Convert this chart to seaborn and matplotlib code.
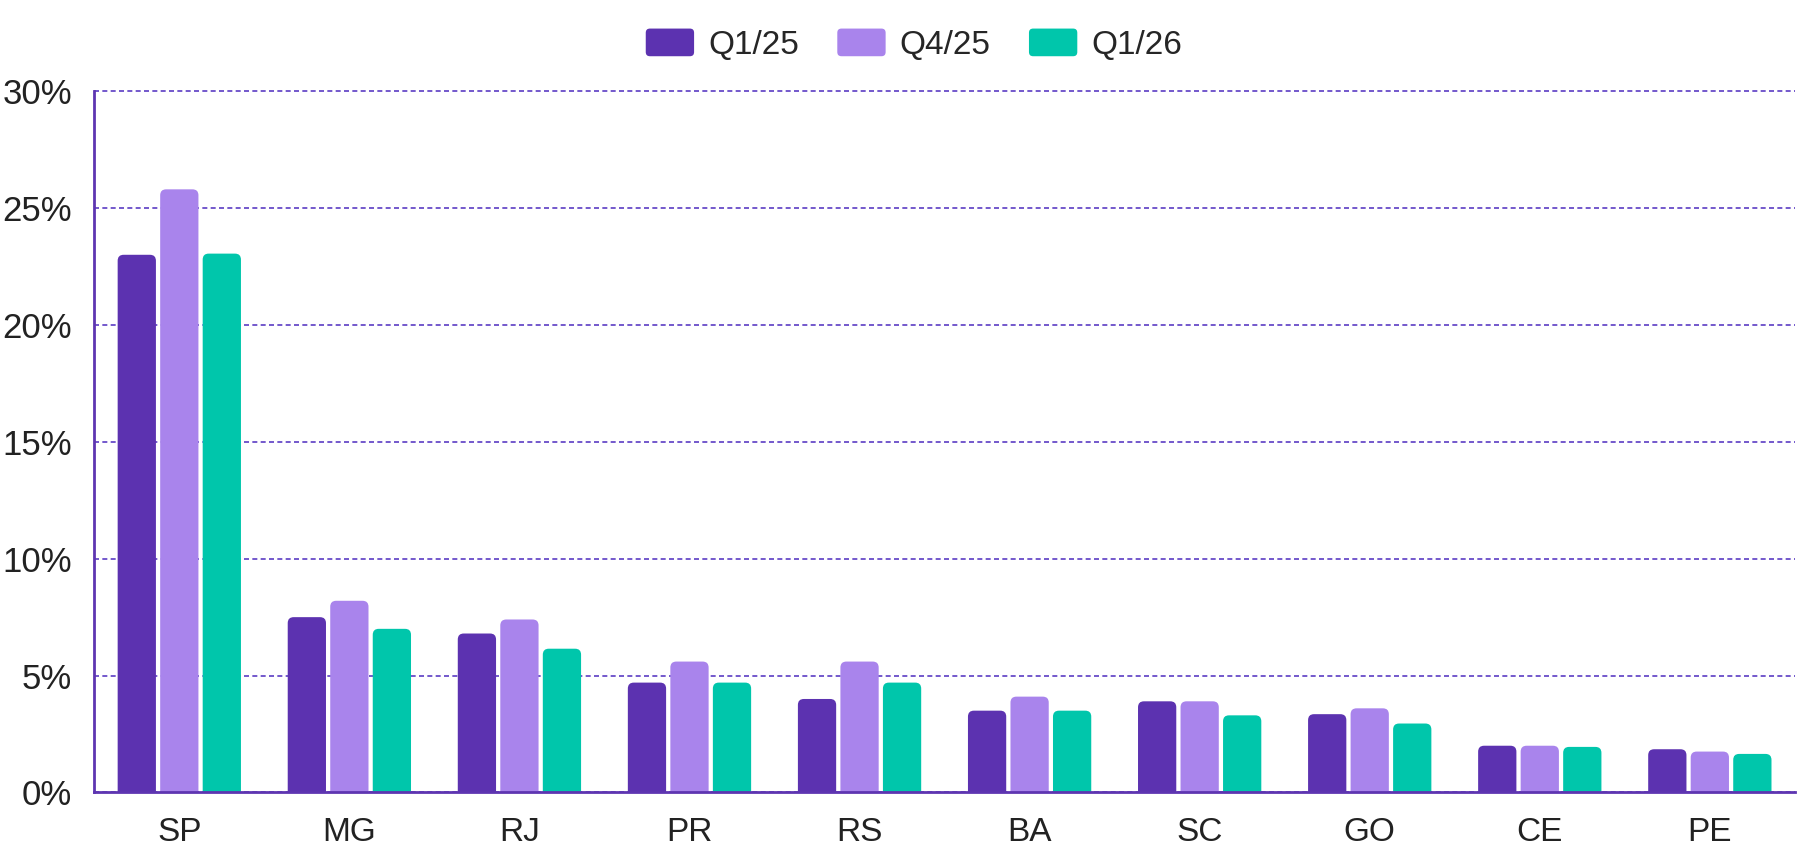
import matplotlib
matplotlib.use("Agg")
import matplotlib.pyplot as plt
import matplotlib.patches as mpatches
from matplotlib.patches import FancyBboxPatch
from matplotlib.legend_handler import HandlerPatch
import seaborn as sns
import pandas as pd

states = ["SP", "MG", "RJ", "PR", "RS", "BA", "SC", "GO", "CE", "PE"]
quarters = ["Q1/25", "Q4/25", "Q1/26"]
q1_25 = [23.0, 7.5, 6.8, 4.7, 4.0, 3.5, 3.9, 3.35, 2.0, 1.85]
q4_25 = [25.8, 8.2, 7.4, 5.6, 5.6, 4.1, 3.9, 3.6, 2.0, 1.75]
q1_26 = [23.05, 7.0, 6.15, 4.7, 4.7, 3.5, 3.3, 2.95, 1.95, 1.65]
colors = ["#5C32B0", "#A984EC", "#00C6AB"]
yticks = [0, 5, 10, 15, 20, 25, 30]

df = pd.DataFrame({
    "state": states * 3,
    "quarter": [q for q in quarters for _ in states],
    "share": q1_25 + q4_25 + q1_26,
})


class RoundedHandle(HandlerPatch):
    # legend swatch with rounded corners
    def create_artists(self, legend, orig_handle, xdescent, ydescent,
                       width, height, fontsize, trans):
        p = FancyBboxPatch(
            (-xdescent, -ydescent), width, height,
            boxstyle="round,pad=0,rounding_size=3",
            facecolor=orig_handle.get_facecolor(), edgecolor="none",
            transform=trans,
        )
        return [p]


sns.set_style("white")
plt.rcParams["font.family"] = ["Liberation Sans", "DejaVu Sans"]

purple = "#5E35B1"
fig = plt.figure(figsize=(18.13, 8.68), dpi=100)
ax = fig.add_axes([0.052, 0.087, 0.938, 0.808])

sns.barplot(
    data=df, x="state", y="share", hue="quarter",
    palette=colors, width=0.75, gap=0.1, saturation=1,
    ax=ax, zorder=3,
)

ax.set_ylim(0, 30)
ax.set_xlim(-0.5, 9.5)

# swap bars for ones with rounded top corners
p0 = ax.transData.transform((0, 0))
p1 = ax.transData.transform((1, 1))
aspect = (p1[0] - p0[0]) / (p1[1] - p0[1])
r = 0.035
for bar in list(ax.patches):
    x, y = bar.get_x(), bar.get_y()
    w, h = bar.get_width(), bar.get_height()
    if w <= 0 or h <= 0:
        continue
    pad = r * aspect
    rb = FancyBboxPatch(
        (x, y - pad), w, h + pad,
        boxstyle=f"round,pad=0,rounding_size={r}",
        mutation_aspect=aspect,
        facecolor=bar.get_facecolor(), edgecolor="none", zorder=3,
    )
    ax.add_patch(rb)
    bar.set_visible(False)

ax.set_yticks(yticks)
ax.set_yticklabels([f"{t}%" for t in yticks])
ax.set_xlabel("")
ax.set_ylabel("")

ax.grid(axis="y", color="#5B3CC4", linestyle=(0, (3, 2)), linewidth=1.2, zorder=0)
for gl in ax.get_ygridlines():
    gl.set_clip_on(False)
for s in ["top", "right"]:
    ax.spines[s].set_visible(False)
for s in ["left", "bottom"]:
    ax.spines[s].set_color(purple)
    ax.spines[s].set_linewidth(2)
    ax.spines[s].set_zorder(4)

ax.tick_params(axis="y", length=10, width=2, color=purple, labelsize=25,
               labelcolor="#222222", pad=6)
ax.tick_params(axis="x", length=0, labelsize=24, labelcolor="#222222", pad=18)

handles, labels = ax.get_legend_handles_labels()
ax.legend(
    handles, labels,
    loc="upper center", bbox_to_anchor=(0.482, 1.132), ncol=3, frameon=False,
    fontsize=24, handlelength=1.45, handleheight=0.9, columnspacing=1.15,
    handletextpad=0.42, handler_map={mpatches.Patch: RoundedHandle()},
)

fig.savefig("out.png", dpi=100, facecolor="white")
